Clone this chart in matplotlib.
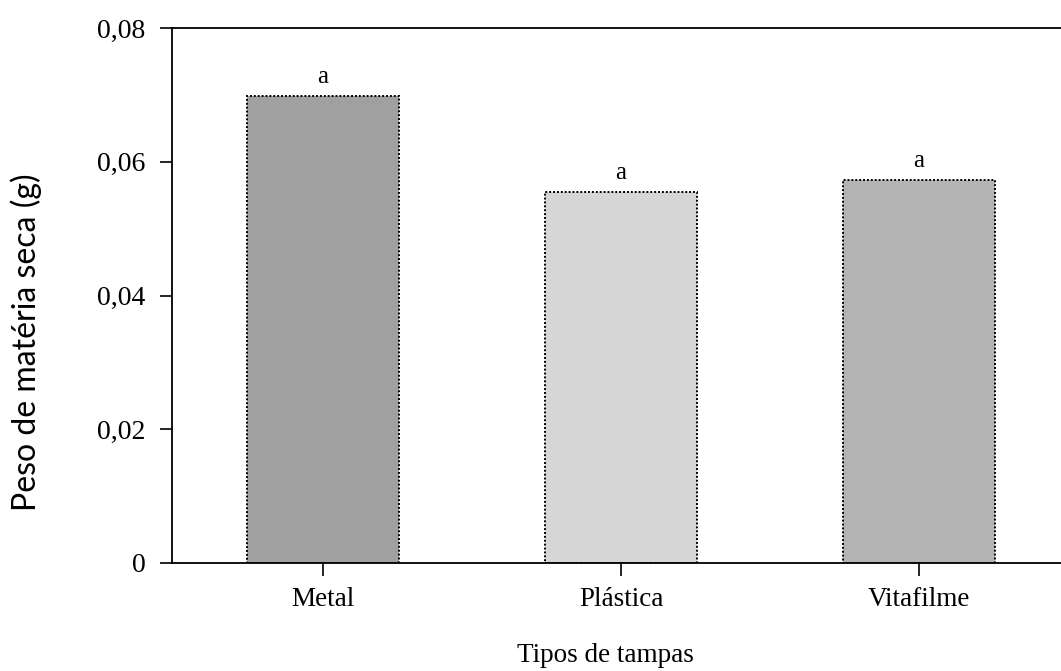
import matplotlib
matplotlib.use("Agg")
import matplotlib.pyplot as plt
from matplotlib.ticker import FixedLocator, FixedFormatter

categories = ["Metal", "Plástica", "Vitafilme"]
values = [0.0699, 0.0555, 0.0573]
letters = ["a", "a", "a"]
colors = ["#a0a0a0", "#d6d6d6", "#b4b4b4"]
yticks = [0, 0.02, 0.04, 0.06, 0.08]
yticklabels = ["0", "0,02", "0,04", "0,06", "0,08"]

plt.rcParams["font.family"] = ["Liberation Serif", "DejaVu Serif"]

fig = plt.figure(figsize=(10.61, 6.71), dpi=100)
ax = fig.add_axes([172/1061, 1 - 563/671, 1 - 172/1061, (563 - 28)/671])

x = list(range(len(categories)))
bars = ax.bar(x, values, width=0.51, color=colors, edgecolor="black",
              linewidth=1.4, linestyle=(0, (1, 1)))
for xi, v, l in zip(x, values, letters):
    ax.text(xi, v + 0.0012, l, ha="center", va="bottom", fontsize=18)

ax.set_xlim(-0.507, 2.477)
ax.set_ylim(0, 0.08)
ax.set_xticks(x)
ax.set_xticklabels(categories, fontsize=19.5)
ax.yaxis.set_major_locator(FixedLocator(yticks))
ax.yaxis.set_major_formatter(FixedFormatter(yticklabels))
ax.tick_params(axis="y", labelsize=20, length=9, width=1.2, pad=10, direction="out")
ax.tick_params(axis="x", length=9, width=1.2, pad=8, direction="out")
ax.spines["right"].set_visible(False)
for s in ["left", "top", "bottom"]:
    ax.spines[s].set_linewidth(1.3)

fig.text(26/1061, 1 - 342/671, "Peso de matéria seca (g)", rotation=90,
         ha="center", va="center", fontsize=23,
         family=["Lato", "DejaVu Sans"])
fig.text(605/1061, 1 - 655/671, "Tipos de tampas", ha="center", va="center",
         fontsize=19.5)

fig.savefig("out.png", dpi=100)
